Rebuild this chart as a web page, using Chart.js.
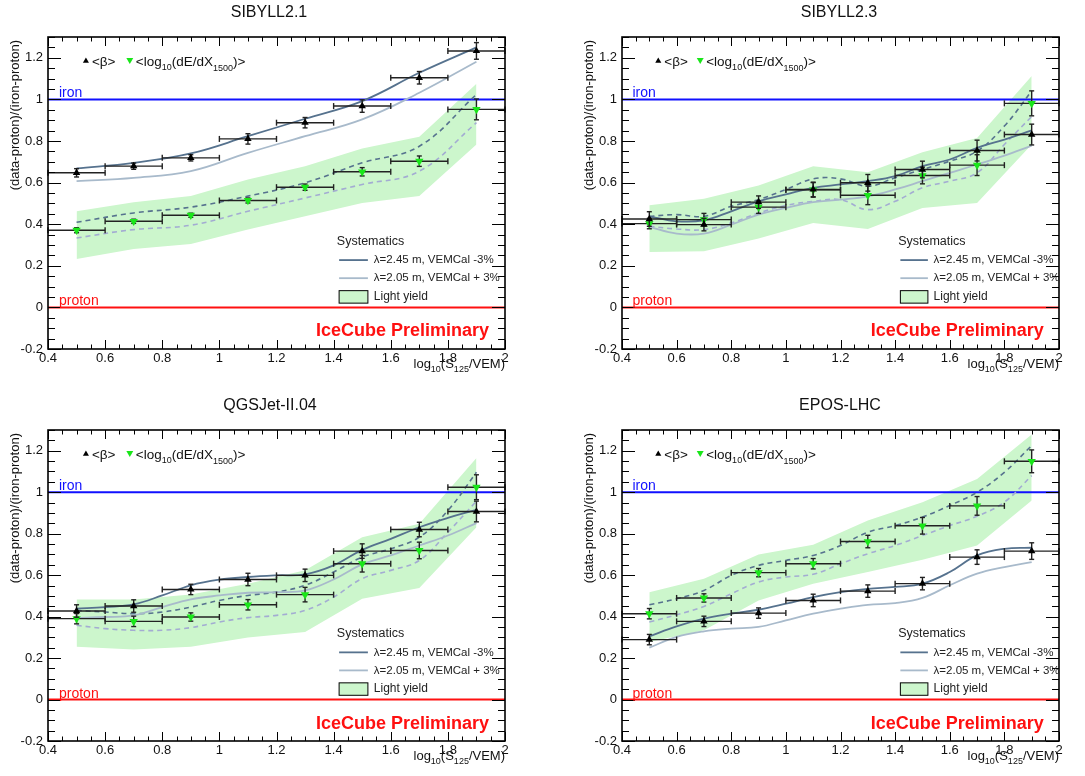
<!DOCTYPE html>
<html>
<head>
<meta charset="utf-8">
<script src="https://cdn.jsdelivr.net/npm/chart.js@4.4.1/dist/chart.umd.min.js"></script>
<style>
  html, body { margin: 0; padding: 0; background: #fff; }
  #wrap { position: relative; width: 1085px; height: 776px; }
  canvas { position: absolute; }
</style>
</head>
<body>
<div id="wrap">
  <canvas id="c1" width="542" height="388" style="left:0;top:0"></canvas>
  <canvas id="c2" width="543" height="388" style="left:542px;top:0"></canvas>
  <canvas id="c3" width="542" height="388" style="left:0;top:388px"></canvas>
  <canvas id="c4" width="543" height="388" style="left:542px;top:388px"></canvas>
</div>
<script>
// bin centres (x error is half a bin) and sampling of the systematic curves
const binX = [0.5, 0.7, 0.9, 1.1, 1.3, 1.5, 1.7, 1.9];
const binHalf = 0.1;
const fineX = [0.5, 0.6, 0.7, 0.8, 0.9, 1.0, 1.1, 1.2, 1.3, 1.4, 1.5, 1.6, 1.7, 1.8, 1.9];
const xTicks = [0.4, 0.6, 0.8, 1.0, 1.2, 1.4, 1.6, 1.8, 2.0];
const yTicks = [-0.2, 0, 0.2, 0.4, 0.6, 0.8, 1.0, 1.2];

// SIBYLL2.1
const sib21Beta = [0.647, 0.679, 0.719, 0.81, 0.888, 0.968, 1.104, 1.233];
const sib21BetaErr = [0.02, 0.015, 0.015, 0.025, 0.025, 0.03, 0.03, 0.04];
const sib21Dedx = [0.371, 0.414, 0.443, 0.514, 0.578, 0.652, 0.703, 0.952];
const sib21DedxErr = [0.012, 0.01, 0.01, 0.012, 0.015, 0.02, 0.025, 0.05];
const sib21BetaHi = [0.668, 0.695, 0.74, 0.823, 0.907, 0.992, 1.128, 1.25];
const sib21BetaLo = [0.607, 0.623, 0.655, 0.743, 0.823, 0.904, 1.032, 1.181];
const sib21DedxHi = [0.409, 0.454, 0.482, 0.535, 0.599, 0.695, 0.775, 1.024];
const sib21DedxLo = [0.334, 0.374, 0.395, 0.462, 0.526, 0.591, 0.655, 0.888];
const sib21BandUp = [0.462, 0.506, 0.535, 0.615, 0.679, 0.764, 0.82, 1.075];
const sib21BandDn = [0.233, 0.281, 0.305, 0.374, 0.438, 0.502, 0.535, 0.783];

// SIBYLL2.3
const sib23Beta = [0.425, 0.398, 0.506, 0.567, 0.599, 0.663, 0.754, 0.831];
const sib23BetaErr = [0.035, 0.03, 0.03, 0.035, 0.04, 0.04, 0.05, 0.05];
const sib23Dedx = [0.403, 0.422, 0.482, 0.565, 0.539, 0.634, 0.684, 0.981];
const sib23DedxErr = [0.025, 0.03, 0.03, 0.035, 0.045, 0.04, 0.05, 0.06];
const sib23BetaHi = [0.438, 0.414, 0.419, 0.462, 0.51, 0.543, 0.575, 0.591, 0.607, 0.631, 0.679, 0.711, 0.767, 0.807, 0.851];
const sib23BetaLo = [0.387, 0.355, 0.355, 0.398, 0.446, 0.478, 0.506, 0.518, 0.534, 0.567, 0.607, 0.647, 0.687, 0.73, 0.778];
const sib23DedxHi = [0.438, 0.446, 0.438, 0.486, 0.518, 0.567, 0.618, 0.618, 0.583, 0.623, 0.663, 0.703, 0.751, 0.872, 1.04];
const sib23DedxLo = [0.39, 0.377, 0.374, 0.406, 0.454, 0.49, 0.51, 0.518, 0.47, 0.51, 0.575, 0.607, 0.647, 0.783, 0.918];
const sib23BandUp = [0.491, 0.522, 0.586, 0.679, 0.65, 0.746, 0.815, 1.112];
const sib23BandDn = [0.266, 0.27, 0.331, 0.406, 0.377, 0.478, 0.502, 0.783];

// QGSJet-II.04
const qgsBeta = [0.427, 0.451, 0.531, 0.579, 0.599, 0.716, 0.82, 0.907];
const qgsBetaErr = [0.03, 0.03, 0.025, 0.03, 0.03, 0.035, 0.035, 0.05];
const qgsDedx = [0.39, 0.377, 0.398, 0.457, 0.506, 0.655, 0.719, 1.024];
const qgsDedxErr = [0.025, 0.025, 0.02, 0.025, 0.035, 0.04, 0.04, 0.06];
const qgsBetaHi = [0.438, 0.446, 0.459, 0.502, 0.551, 0.578, 0.591, 0.599, 0.604, 0.647, 0.722, 0.775, 0.831, 0.876, 0.915];
const qgsBetaLo = [0.393, 0.398, 0.406, 0.446, 0.483, 0.502, 0.515, 0.518, 0.526, 0.579, 0.652, 0.695, 0.743, 0.791, 0.851];
const qgsDedxHi = [0.43, 0.422, 0.414, 0.422, 0.446, 0.478, 0.502, 0.518, 0.551, 0.615, 0.687, 0.727, 0.783, 0.912, 1.096];
const qgsDedxLo = [0.358, 0.342, 0.334, 0.334, 0.347, 0.374, 0.395, 0.406, 0.43, 0.494, 0.583, 0.623, 0.671, 0.807, 0.957];
const qgsBandUp = [0.483, 0.482, 0.506, 0.559, 0.623, 0.783, 0.848, 1.165];
const qgsBandDn = [0.254, 0.241, 0.254, 0.299, 0.326, 0.486, 0.538, 0.831];

// EPOS-LHC
const eposBeta = [0.289, 0.377, 0.417, 0.478, 0.523, 0.559, 0.687, 0.716];
const eposBetaErr = [0.025, 0.025, 0.025, 0.03, 0.03, 0.03, 0.035, 0.04];
const eposDedx = [0.414, 0.49, 0.612, 0.655, 0.762, 0.838, 0.934, 1.149];
const eposDedxErr = [0.025, 0.02, 0.02, 0.025, 0.03, 0.04, 0.045, 0.055];
const eposBetaHi = [0.305, 0.353, 0.39, 0.414, 0.433, 0.462, 0.494, 0.518, 0.534, 0.543, 0.559, 0.615, 0.695, 0.727, 0.732];
const eposBetaLo = [0.25, 0.302, 0.329, 0.342, 0.35, 0.382, 0.414, 0.438, 0.457, 0.465, 0.49, 0.551, 0.607, 0.639, 0.663];
const eposDedxHi = [0.457, 0.486, 0.526, 0.599, 0.647, 0.671, 0.695, 0.743, 0.807, 0.839, 0.88, 0.936, 1.0, 1.096, 1.225];
const eposDedxLo = [0.374, 0.409, 0.449, 0.51, 0.567, 0.591, 0.604, 0.655, 0.703, 0.743, 0.791, 0.839, 0.884, 0.952, 1.08];
const eposBandUp = [0.518, 0.583, 0.7, 0.746, 0.864, 0.952, 1.064, 1.278];
const eposBandDn = [0.278, 0.334, 0.478, 0.559, 0.615, 0.674, 0.743, 0.96];

const FONT = "'Liberation Sans', Arial, Helvetica, sans-serif";
const colors = {
    sysDark: '#56728e',
    sysLight: '#a8bacb',
    dashLight: '#a3acd2',
    band: 'rgb(204,246,204)',
    green: '#19e619',
    iron: '#1010ff',
    proton: '#ff1010'
};

Chart.defaults.font.family = FONT;
Chart.defaults.color = '#111';

const panels = [
    { id: 'c1', title: 'SIBYLL2.1', titleX: 269, curveX: binX, pad: { left: 48, right: 37, top: 37, bottom: 39 },
      beta: sib21Beta, betaErr: sib21BetaErr, dedx: sib21Dedx, dedxErr: sib21DedxErr,
      betaHi: sib21BetaHi, betaLo: sib21BetaLo, dedxHi: sib21DedxHi, dedxLo: sib21DedxLo, bandUp: sib21BandUp, bandDn: sib21BandDn },
    { id: 'c2', title: 'SIBYLL2.3', titleX: 297, curveX: fineX, pad: { left: 80, right: 26, top: 37, bottom: 39 },
      beta: sib23Beta, betaErr: sib23BetaErr, dedx: sib23Dedx, dedxErr: sib23DedxErr,
      betaHi: sib23BetaHi, betaLo: sib23BetaLo, dedxHi: sib23DedxHi, dedxLo: sib23DedxLo, bandUp: sib23BandUp, bandDn: sib23BandDn },
    { id: 'c3', title: 'QGSJet-II.04', titleX: 270, curveX: fineX, pad: { left: 48, right: 37, top: 42, bottom: 35 },
      beta: qgsBeta, betaErr: qgsBetaErr, dedx: qgsDedx, dedxErr: qgsDedxErr,
      betaHi: qgsBetaHi, betaLo: qgsBetaLo, dedxHi: qgsDedxHi, dedxLo: qgsDedxLo, bandUp: qgsBandUp, bandDn: qgsBandDn },
    { id: 'c4', title: 'EPOS-LHC', titleX: 298, curveX: fineX, pad: { left: 80, right: 26, top: 42, bottom: 35 },
      beta: eposBeta, betaErr: eposBetaErr, dedx: eposDedx, dedxErr: eposDedxErr,
      betaHi: eposBetaHi, betaLo: eposBetaLo, dedxHi: eposDedxHi, dedxLo: eposDedxLo, bandUp: eposBandUp, bandDn: eposBandDn }
];

const toXY = (xs, ys) => xs.map((x, i) => ({ x: x, y: ys[i] }));
const fmtTick = v => String(Number(v.toFixed(1)));

function line(ctx, x1, y1, x2, y2) {
    ctx.beginPath();
    ctx.moveTo(x1, y1);
    ctx.lineTo(x2, y2);
    ctx.stroke();
}

function triangle(ctx, x, y, r, down, color) {
    const s = down ? -1 : 1;
    ctx.fillStyle = color;
    ctx.beginPath();
    ctx.moveTo(x, y - s * r);
    ctx.lineTo(x + r * 0.866, y + s * r * 0.5);
    ctx.lineTo(x - r * 0.866, y + s * r * 0.5);
    ctx.closePath();
    ctx.fill();
}

// text with subscripts: parts = [[text, baselineShift], ...]
function richText(ctx, parts, x, y, size, align) {
    const subSize = Math.round(size * 0.7);
    let w = 0;
    parts.forEach(p => {
        ctx.font = (p[1] ? subSize : size) + 'px ' + FONT;
        w += ctx.measureText(p[0]).width;
    });
    let cx = align === 'right' ? x - w : x;
    ctx.textAlign = 'left';
    ctx.textBaseline = 'alphabetic';
    parts.forEach(p => {
        ctx.font = (p[1] ? subSize : size) + 'px ' + FONT;
        ctx.fillText(p[0], cx, y + p[1]);
        cx += ctx.measureText(p[0]).width;
    });
}

const decor = {
    id: 'decor',
    beforeDatasetDraw(chart, args) {
        const ds = chart.data.datasets[args.index];
        if (!ds.errY) return;
        const xs = chart.scales.x, ys = chart.scales.y, ctx = chart.ctx;
        ctx.save();
        ctx.strokeStyle = '#222';
        ctx.lineWidth = 1.4;
        ds.data.forEach((p, i) => {
            const px = xs.getPixelForValue(p.x);
            const py = ys.getPixelForValue(p.y);
            const x1 = xs.getPixelForValue(p.x - binHalf), x2 = xs.getPixelForValue(p.x + binHalf);
            const y1 = ys.getPixelForValue(p.y - ds.errY[i]), y2 = ys.getPixelForValue(p.y + ds.errY[i]);
            line(ctx, x1, py, x2, py);
            line(ctx, x1, py - 3, x1, py + 3);
            line(ctx, x2, py - 3, x2, py + 3);
            line(ctx, px, y1, px, y2);
            line(ctx, px - 2.5, y1, px + 2.5, y1);
            line(ctx, px - 2.5, y2, px + 2.5, y2);
        });
        ctx.restore();
    },
    afterDraw(chart, args, opts) {
        const ctx = chart.ctx, a = chart.chartArea;
        const xs = chart.scales.x, ys = chart.scales.y;
        const w = a.right - a.left, h = a.bottom - a.top;
        const fx = f => a.left + f * w, fy = f => a.top + f * h;
        ctx.save();

        // frame and ticks on all four sides
        ctx.strokeStyle = '#000';
        ctx.lineWidth = 1;
        for (let k = 0; k <= 30; k++) {
            const py = Math.round(ys.getPixelForValue(-0.2 + k * 0.05)) + 0.5;
            const len = k % 4 === 0 ? 13 : 7;
            line(ctx, a.left, py, a.left + len, py);
            line(ctx, a.right, py, a.right - len, py);
        }
        for (let k = 0; k <= 32; k++) {
            const px = Math.round(xs.getPixelForValue(0.4 + k * 0.05)) + 0.5;
            const len = k % 4 === 0 ? 9 : 4.5;
            line(ctx, px, a.bottom, px, a.bottom - len);
            line(ctx, px, a.top, px, a.top + len);
        }
        ctx.lineWidth = 1.6;
        ctx.strokeRect(a.left, a.top, w, h);

        // title
        ctx.fillStyle = '#111';
        ctx.font = '16px ' + FONT;
        ctx.textAlign = 'center';
        ctx.textBaseline = 'middle';
        ctx.fillText(opts.title, opts.titleX, a.top - 24);

        // axis titles
        ctx.save();
        ctx.translate(a.left - 33, a.top + 3);
        ctx.rotate(-Math.PI / 2);
        ctx.font = '13px ' + FONT;
        ctx.textAlign = 'right';
        ctx.textBaseline = 'middle';
        ctx.fillText('(data-proton)/(iron-proton)', 0, 0);
        ctx.restore();
        ctx.fillStyle = '#111';
        richText(ctx, [['log', 0], ['10', 4], ['(S', 0], ['125', 4], ['/VEM)', 0]], a.right, a.bottom + 19, 13, 'right');

        // iron / proton labels
        ctx.font = '14px ' + FONT;
        ctx.textAlign = 'left';
        ctx.textBaseline = 'alphabetic';
        ctx.fillStyle = colors.iron;
        ctx.fillText('iron', fx(0.024), ys.getPixelForValue(1) - 2);
        ctx.fillStyle = colors.proton;
        ctx.fillText('proton', fx(0.024), ys.getPixelForValue(0) - 2);

        // marker legend
        const ly = a.top + 24;
        triangle(ctx, fx(0.083), ly, 3.5, false, '#000');
        ctx.fillStyle = '#111';
        richText(ctx, [['<\u03B2>', 0]], fx(0.083) + 6, ly + 5, 13.5, 'left');
        triangle(ctx, fx(0.179), ly - 1, 4, true, colors.green);
        ctx.fillStyle = '#111';
        richText(ctx, [['<log', 0], ['10', 4], ['(dE/dX', 0], ['1500', 5], [')>', 0]], fx(0.179) + 6, ly + 5, 13.5, 'left');

        // systematics legend
        ctx.textAlign = 'left';
        ctx.textBaseline = 'middle';
        ctx.fillStyle = '#222';
        ctx.font = '12.5px ' + FONT;
        ctx.fillText('Systematics', fx(0.632), fy(0.654));
        ctx.font = '11.5px ' + FONT;
        ctx.lineWidth = 1.8;
        ctx.strokeStyle = colors.sysDark;
        line(ctx, fx(0.637), fy(0.715), fx(0.7), fy(0.715));
        ctx.strokeStyle = colors.sysLight;
        line(ctx, fx(0.637), fy(0.773), fx(0.7), fy(0.773));
        ctx.fillStyle = '#222';
        ctx.fillText('\u03BB=2.45 m, VEMCal -3%', fx(0.713), fy(0.715));
        ctx.fillText('\u03BB=2.05 m, VEMCal + 3%', fx(0.713), fy(0.773));
        ctx.fillStyle = colors.band;
        ctx.fillRect(fx(0.637), fy(0.813), fx(0.7) - fx(0.637), fy(0.853) - fy(0.813));
        ctx.strokeStyle = '#000';
        ctx.lineWidth = 1;
        ctx.strokeRect(fx(0.637), fy(0.813), fx(0.7) - fx(0.637), fy(0.853) - fy(0.813));
        ctx.fillStyle = '#222';
        ctx.font = '12px ' + FONT;
        ctx.fillText('Light yield', fx(0.713), fy(0.832));

        // preliminary label
        ctx.font = 'bold 18px ' + FONT;
        ctx.textAlign = 'right';
        ctx.fillStyle = '#ff1010';
        ctx.fillText('IceCube Preliminary', fx(0.965), fy(0.944));
        ctx.restore();
    }
};

function makePanel(p) {
    const ctx = document.getElementById(p.id).getContext('2d');
    return new Chart(ctx, {
        type: 'line',
        data: {
            datasets: [
                { data: [{ x: 0.4, y: 1 }, { x: 2, y: 1 }], borderColor: colors.iron, borderWidth: 2, pointRadius: 0, order: 5 },
                { data: [{ x: 0.4, y: 0 }, { x: 2, y: 0 }], borderColor: colors.proton, borderWidth: 2, pointRadius: 0, order: 5 },
                { data: toXY(binX, p.bandUp), fill: '+1', backgroundColor: colors.band, borderWidth: 0, pointRadius: 0, order: 9 },
                { data: toXY(binX, p.bandDn), fill: false, borderWidth: 0, pointRadius: 0, order: 9 },
                { data: toXY(p.curveX, p.betaHi), borderColor: colors.sysDark, borderWidth: 1.8, pointRadius: 0, tension: 0.4, order: 3 },
                { data: toXY(p.curveX, p.betaLo), borderColor: colors.sysLight, borderWidth: 1.8, pointRadius: 0, tension: 0.4, order: 3 },
                { data: toXY(p.curveX, p.dedxHi), borderColor: colors.sysDark, borderWidth: 1.6, borderDash: [5, 4], pointRadius: 0, tension: 0.4, order: 3 },
                { data: toXY(p.curveX, p.dedxLo), borderColor: colors.dashLight, borderWidth: 1.6, borderDash: [5, 4], pointRadius: 0, tension: 0.4, order: 3 },
                { data: toXY(binX, p.beta), errY: p.betaErr, showLine: false, pointStyle: 'triangle', pointRadius: 4.3,
                  backgroundColor: '#000', borderColor: '#000', borderWidth: 0, order: 1 },
                { data: toXY(binX, p.dedx), errY: p.dedxErr, showLine: false, pointStyle: 'triangle', rotation: 180, pointRadius: 4.8,
                  backgroundColor: colors.green, borderColor: colors.green, borderWidth: 0, order: 1 }
            ]
        },
        options: {
            responsive: false,
            animation: false,
            layout: { padding: { left: 0, right: p.pad.right, top: p.pad.top, bottom: 0 } },
            scales: {
                x: {
                    type: 'linear', min: 0.4, max: 2,
                    grid: { display: false, drawTicks: false }, border: { display: false },
                    afterBuildTicks: s => { s.ticks = xTicks.map(v => ({ value: v })); },
                    afterFit: s => { s.height = p.pad.bottom; },
                    ticks: { padding: 2, maxRotation: 0, autoSkip: false, font: { size: 13 }, color: '#111', callback: fmtTick }
                },
                y: {
                    type: 'linear', min: -0.2, max: 1.3,
                    grid: { display: false, drawTicks: false }, border: { display: false },
                    afterBuildTicks: s => { s.ticks = yTicks.map(v => ({ value: v })); },
                    afterFit: s => { s.width = p.pad.left; },
                    ticks: { padding: 5, autoSkip: false, font: { size: 13 }, color: '#111', callback: fmtTick }
                }
            },
            plugins: {
                legend: { display: false },
                tooltip: { enabled: false },
                decor: { title: p.title, titleX: p.titleX }
            }
        },
        plugins: [decor]
    });
}

panels.forEach(makePanel);
</script>
</body>
</html>
